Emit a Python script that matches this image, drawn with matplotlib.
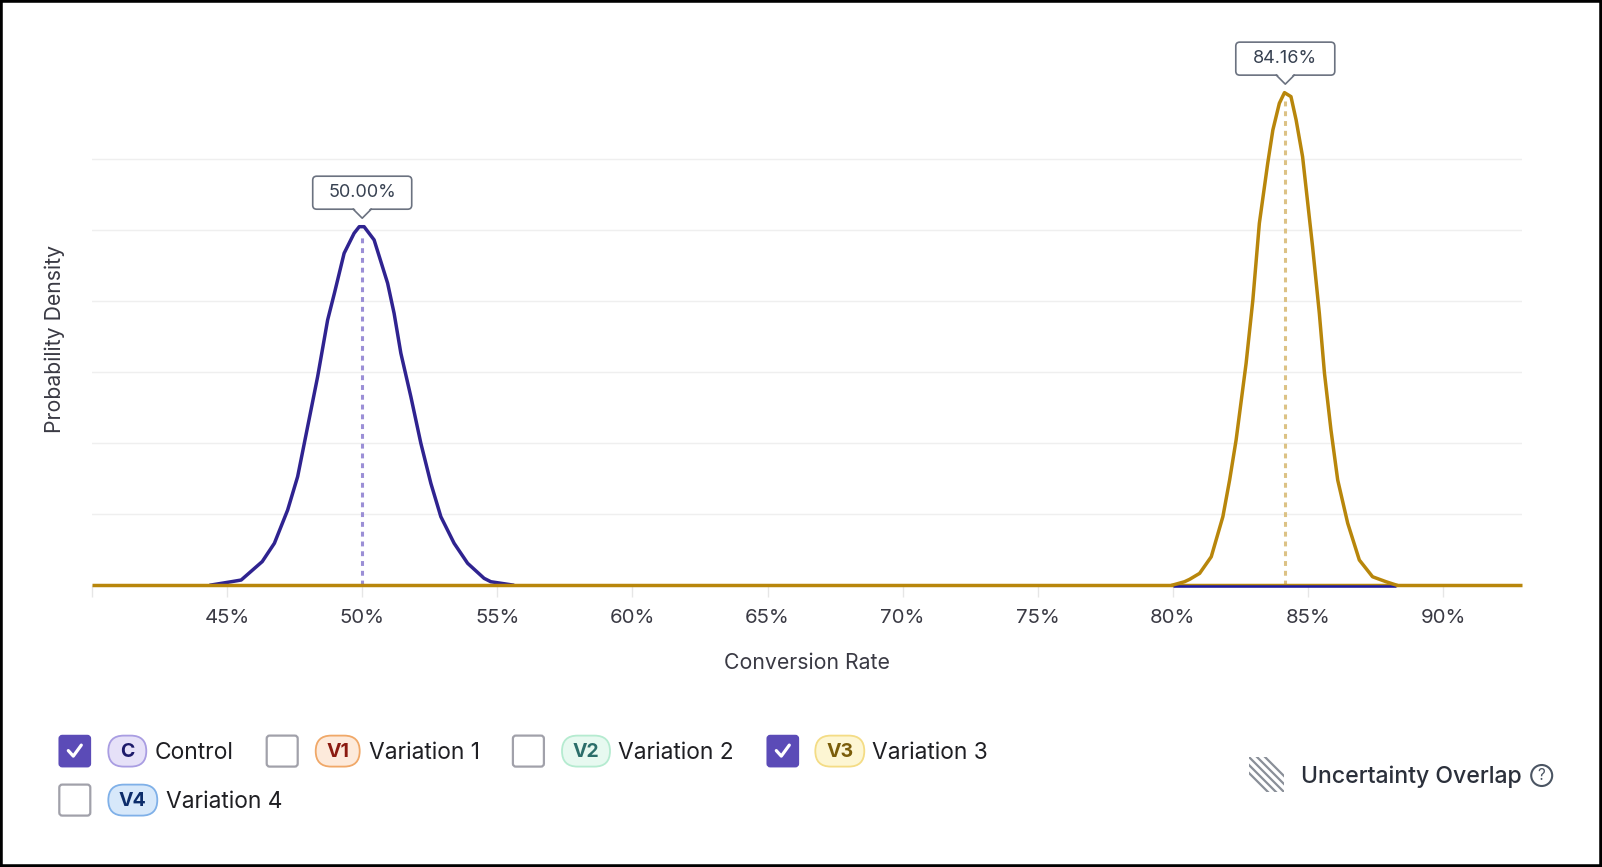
import numpy as np
import matplotlib.pyplot as plt
from matplotlib.patches import FancyBboxPatch, Polygon, Circle, Rectangle
from matplotlib.lines import Line2D
from matplotlib.transforms import IdentityTransform

plt.rcParams['font.family'] = ['Inter', 'DejaVu Sans']

W, H = 1602, 867

# density curves (conversion rate in %, density)
ctrl_x = [44.41, 45.15, 45.52, 46.30, 46.75, 47.24, 47.61, 47.98, 48.35, 48.72, 48.97,
          49.33, 49.70, 49.89, 50.07, 50.44, 50.94, 51.18, 51.43, 51.80, 52.17, 52.54,
          52.91, 53.40, 53.90, 54.51, 54.76, 55.56]
ctrl_y = [0.0, 0.23, 0.35, 1.65, 2.94, 5.28, 7.63, 11.15, 14.67, 18.66, 20.54,
          23.36, 24.77, 25.23, 25.23, 24.30, 21.25, 19.13, 16.32, 13.26, 9.98, 7.16,
          4.81, 2.94, 1.53, 0.47, 0.23, 0.0]

v3_x = [80.00, 80.43, 80.62, 80.99, 81.42, 81.85, 82.10, 82.34, 82.71, 82.96, 83.20,
        83.51, 83.70, 83.94, 84.13, 84.37, 84.56, 84.80, 85.17, 85.42, 85.61, 85.85,
        86.10, 86.47, 86.90, 87.39, 87.89, 88.26]
v3_y = [0.0, 0.23, 0.40, 0.82, 1.99, 4.81, 7.39, 10.21, 15.61, 20.07, 25.47,
        29.70, 32.04, 33.92, 34.67, 34.39, 32.75, 30.16, 23.82, 19.13, 14.91, 10.92,
        7.39, 4.35, 1.76, 0.58, 0.23, 0.0]

ctrl_mean = 50.00
v3_mean = 84.16
x_range = [40.0, 92.92]

xticks = [40, 45, 50, 55, 60, 65, 70, 75, 80, 85, 90]
xtick_labels = ['', '45%', '50%', '55%', '60%', '65%', '70%', '75%', '80%', '85%', '90%']
grid_levels = [5, 10, 15, 20, 25, 30]

legend_tags = ['C', 'V1', 'V2', 'V3', 'V4']
legend_labels = ['Control', 'Variation 1', 'Variation 2', 'Variation 3', 'Variation 4']
legend_checked = [True, False, False, True, False]

ctrl_color = '#2f2390'
v3_color = '#b8860b'

fig = plt.figure(figsize=(W / 100, H / 100), dpi=100)
fig.patch.set_facecolor('white')
ax = fig.add_axes([92 / W, (H - 585) / H, 1430 / W, 505 / H])

ax.set_xlim(*x_range)
ax.set_ylim(0, 35.56)

# baselines: V3 is zero everywhere, control's zero segment shows under V3
ax.plot(x_range, [0, 0], color=v3_color, lw=2.5, zorder=3, solid_capstyle='butt', clip_on=False)
ax.plot([v3_x[0], v3_x[-1]], [-0.1, -0.1], color='#1c1aa0', lw=1.8, zorder=3.5,
        solid_capstyle='butt', clip_on=False)

ax.plot(ctrl_x, ctrl_y, color=ctrl_color, lw=2.5, zorder=2.5, clip_on=False)
ax.plot(v3_x, v3_y, color=v3_color, lw=2.5, zorder=4, clip_on=False)

ax.plot([ctrl_mean, ctrl_mean], [0, max(ctrl_y) - 0.5], color='#9b8fd6', lw=2.2,
        dashes=(1.6, 1.6), zorder=2)
ax.plot([v3_mean, v3_mean], [0, max(v3_y) - 0.5], color='#dcc285', lw=2.2,
        dashes=(1.6, 1.6), zorder=2)

ax.set_yticks(grid_levels)
ax.yaxis.grid(True, color='#efefef', lw=1)
ax.tick_params(axis='y', left=False, labelleft=False)
ax.set_xticks(xticks)
ax.set_xticklabels(xtick_labels)
ax.tick_params(axis='x', length=8.6, width=1, color='#e6e6e6', pad=9,
               labelsize=14.7, labelcolor='#3a3a44')
for s in ax.spines.values():
    s.set_visible(False)
ax.set_axisbelow(True)

ax.set_xlabel('Conversion Rate', fontsize=15.3, color='#3a3a44')
ax.xaxis.set_label_coords(0.5, -0.1545)
ax.xaxis.label.set_va('center')
ax.set_ylabel('Probability Density', fontsize=15.3, color='#3a3a44')
ax.yaxis.set_label_coords(-0.0262, 0.487)
ax.yaxis.label.set_va('center')

IT = IdentityTransform()


def peak_label(xv, yv, text):
    dx, dy = ax.transData.transform((xv, yv))
    tip = dy + 8.5
    bottom = tip + 9
    box = FancyBboxPatch((dx - 49.5, bottom), 99, 33,
                         boxstyle='round,pad=0,rounding_size=4',
                         fc='white', ec='#6b7280', lw=1.2, transform=IT, zorder=10)
    fig.add_artist(box)
    fig.add_artist(Polygon([(dx - 8.5, bottom + 1.5), (dx, tip), (dx + 8.5, bottom + 1.5)],
                           closed=True, fc='white', ec='none', transform=IT, zorder=11))
    fig.add_artist(Line2D([dx - 9, dx, dx + 9], [bottom, tip, bottom], color='#6b7280',
                          lw=1.2, transform=IT, zorder=12))
    fig.text(dx, bottom + 16.5, text, transform=IT, ha='center', va='center',
             fontsize=13, color='#374151', zorder=13)


peak_label(ctrl_mean, max(ctrl_y), '%.2f%%' % ctrl_mean)
peak_label(v3_mean, max(v3_y), '%.2f%%' % v3_mean)

# legend (custom, like the checkbox row under the chart)
pill_styles = [('#e6e1f8', '#a99de2', '#1e1b6b'),
               ('#fdeadb', '#f0a868', '#8b1a10'),
               ('#e7f9f0', '#b5ebd0', '#2c6e6a'),
               ('#fdf6d3', '#f4dc85', '#7a5d0a'),
               ('#d7e8fa', '#7fb0e8', '#0d2d6b')]
item_pos = [(59.3, 735.6, 108.3, 38, 154.3),
            (266.7, 735.6, 315.7, 44, 368.8),
            (512.9, 735.6, 562.0, 48, 618.0),
            (767.3, 735.6, 815.3, 49, 872.5),
            (59.3, 784.6, 108.3, 49, 165.5)]

for tag, label, checked, (cbx, top, pill_x, pill_w, lab_x), (pfc, pec, ptc) in zip(
        legend_tags, legend_labels, legend_checked, item_pos, pill_styles):
    yb = H - top - 31
    yc = yb + 15.5
    if checked:
        fig.add_artist(FancyBboxPatch((cbx, yb), 31, 31, boxstyle='round,pad=0,rounding_size=3',
                                      fc='#5b4bb7', ec='#5b4bb7', lw=1.2, transform=IT))
        fig.add_artist(Line2D([cbx + 9, cbx + 14, cbx + 22], [yc + 0.5, yc - 5, yc + 6],
                              color='white', lw=2.3, transform=IT,
                              solid_capstyle='round', solid_joinstyle='round'))
    else:
        fig.add_artist(FancyBboxPatch((cbx, yb), 31, 31, boxstyle='round,pad=0,rounding_size=3',
                                      fc='white', ec='#a1a1aa', lw=1.6, transform=IT))
    fig.add_artist(FancyBboxPatch((pill_x, yb), pill_w, 31,
                                  boxstyle='round,pad=0,rounding_size=15.5',
                                  fc=pfc, ec=pec, lw=1.3, transform=IT))
    fig.text(pill_x + pill_w / 2, yc - 0.5, tag, transform=IT, ha='center', va='center',
             fontsize=14, fontweight='bold', color=ptc)
    fig.text(lab_x, yc - 1.5, label, transform=IT, ha='left', va='center',
             fontsize=16.4, color='#1f1f23')

# uncertainty overlap marker
ix0, iy_top = 1249, H - 757
clip = Rectangle((ix0, iy_top - 35), 35, 35, transform=IT, fill=False, lw=0)
fig.add_artist(clip)
for c in [-16, -8, 0, 8, 16]:
    ln = Line2D([ix0 + c, ix0 + c + 35], [iy_top, iy_top - 35], color='#8a8f98',
                lw=1.6, transform=IT)
    ln.set_clip_path(clip)
    fig.add_artist(ln)
fig.text(1300.6, H - 776.5, 'Uncertainty Overlap', transform=IT, ha='left', va='center',
         fontsize=16.6, fontweight='medium', color='#2b303b')
fig.add_artist(Circle((1541.7, H - 775.5), 10.5, fill=False, ec='#4b5563', lw=1.5, transform=IT))
fig.text(1541.7, H - 775.5, '?', transform=IT, ha='center', va='center',
         fontsize=11, color='#4b5563')

fig.add_artist(Rectangle((0, 0), 1, 1, transform=fig.transFigure, fill=False,
                         ec='black', lw=4))

fig.savefig('out.png', dpi=100)
